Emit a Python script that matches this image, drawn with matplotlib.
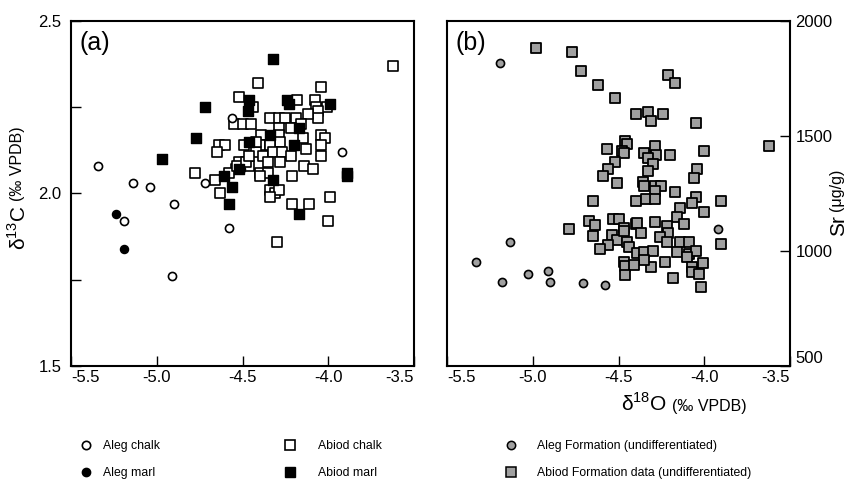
import matplotlib
matplotlib.use("Agg")
import matplotlib.pyplot as plt
from matplotlib.lines import Line2D
from matplotlib import font_manager

plt.rcParams['font.family'] = ['Liberation Sans', 'DejaVu Sans']
plt.rcParams['mathtext.fontset'] = 'custom'
plt.rcParams['mathtext.rm'] = 'Liberation Sans'

# legend text in the original is a narrow face; use it if it is there
installed = {f.name for f in font_manager.fontManager.ttflist}
if 'Liberation Sans Narrow' in installed:
    leg_font = {'family': 'Liberation Sans Narrow', 'size': 10.5}
else:
    leg_font = {'family': 'Liberation Sans', 'size': 8.8}

# ---- panel (a): d18O vs d13C ----
aleg_chalk_o = [-5.34, -5.14, -5.04, -4.72, -4.56, -3.92, -4.90, -5.19, -4.58, -4.91]
aleg_chalk_c = [2.08, 2.03, 2.02, 2.03, 2.22, 2.12, 1.97, 1.92, 1.90, 1.76]

aleg_marl_o = [-5.24, -5.19, -4.51]
aleg_marl_c = [1.94, 1.84, 2.07]

abiod_chalk_o = [-3.62, -4.41, -4.04, -4.52, -4.18, -4.08, -4.44, -4.07, -4.01, -4.06,
                 -4.06, -4.12, -4.55, -4.50, -4.45, -4.34, -4.29, -4.25, -4.19, -4.16,
                 -4.29, -4.22, -4.39, -4.29, -4.28, -4.40, -4.34, -4.49, -4.64, -4.60,
                 -4.65, -4.15, -4.13, -4.04, -4.02, -4.04, -4.04, -4.14, -4.09, -4.21,
                 -4.42, -4.38, -4.32, -4.27, -4.22, -4.28, -4.35, -4.46, -4.52, -4.54,
                 -4.40, -4.35, -4.78, -4.66, -4.58, -4.63, -4.34, -4.31, -4.29, -4.34,
                 -4.21, -4.11, -3.99, -4.00, -4.30, -4.40, -4.53, -4.48, -4.42, -4.46]
abiod_chalk_c = [2.37, 2.32, 2.31, 2.28, 2.27, 2.27, 2.25, 2.25, 2.25, 2.24,
                 2.22, 2.23, 2.20, 2.20, 2.20, 2.22, 2.22, 2.22, 2.22, 2.20,
                 2.19, 2.19, 2.17, 2.17, 2.15, 2.14, 2.14, 2.14, 2.14, 2.14,
                 2.12, 2.16, 2.13, 2.17, 2.16, 2.14, 2.11, 2.08, 2.07, 2.05,
                 2.12, 2.11, 2.12, 2.12, 2.11, 2.09, 2.09, 2.08, 2.09, 2.07,
                 2.06, 2.06, 2.06, 2.04, 2.06, 2.00, 2.01, 2.00, 2.01, 1.99,
                 1.97, 1.97, 1.99, 1.92, 1.86, 2.05, 2.08, 2.09, 2.15, 2.11]

abiod_marl_o = [-4.32, -4.72, -4.46, -4.47, -4.24, -4.23, -3.99, -4.77, -4.97, -4.46,
                -4.34, -4.20, -4.61, -4.56, -4.32, -3.89, -3.89, -4.58, -4.17, -4.17,
                -4.52]
abiod_marl_c = [2.39, 2.25, 2.27, 2.24, 2.27, 2.26, 2.26, 2.16, 2.10, 2.15,
                2.17, 2.14, 2.05, 2.02, 2.04, 2.06, 2.05, 1.97, 1.94, 2.19,
                2.07]

# ---- panel (b): d18O vs Sr ----
aleg_fm_o = [-5.19, -5.13, -5.33, -5.18, -5.03, -4.91, -4.90, -4.71, -4.58, -3.92]
aleg_fm_sr = [1816, 1039, 954, 864, 900, 914, 867, 861, 852, 1097]

abiod_fm_o = [-4.98, -4.77, -4.72, -4.62, -4.52, -4.21, -4.17, -4.40, -4.33, -4.31,
              -4.24, -4.05, -3.62, -4.57, -4.46, -4.45, -4.48, -4.47, -4.29, -4.35,
              -4.28, -4.33, -4.20, -4.00, -4.30, -4.52, -4.56, -4.59, -4.33, -4.04,
              -4.06, -4.51, -4.36, -4.35, -4.29, -4.25, -4.29, -4.17, -4.65, -4.40,
              -4.34, -4.29, -4.05, -4.07, -3.90, -4.14, -4.00, -4.16, -4.67, -4.64,
              -4.53, -4.50, -4.40, -4.39, -4.29, -4.22, -4.12, -4.79, -4.47, -4.65,
              -4.37, -4.21, -4.54, -4.51, -4.47, -4.56, -4.61, -4.45, -4.44, -4.39,
              -4.26, -4.22, -4.35, -4.30, -4.14, -4.09, -4.16, -4.09, -4.05, -4.10,
              -3.90, -4.23, -4.31, -4.35, -4.47, -4.46, -4.41, -4.46, -4.07, -4.01,
              -4.07, -4.03, -4.18, -4.02]
abiod_fm_sr = [1884, 1864, 1784, 1723, 1664, 1764, 1732, 1594, 1603, 1567,
               1594, 1555, 1457, 1445, 1478, 1465, 1435, 1425, 1457, 1425,
               1416, 1403, 1416, 1436, 1377, 1387, 1357, 1327, 1346, 1357,
               1316, 1297, 1299, 1284, 1284, 1284, 1262, 1257, 1217, 1217,
               1226, 1226, 1236, 1207, 1217, 1186, 1168, 1149, 1132, 1113,
               1138, 1138, 1117, 1120, 1127, 1109, 1117, 1096, 1099, 1066,
               1077, 1077, 1070, 1048, 1088, 1026, 1007, 1040, 1019, 990,
               1060, 1040, 997, 1000, 1038, 1038, 994, 986, 1000, 975,
               1029, 953, 932, 961, 953, 936, 939, 896, 932, 949,
               910, 899, 884, 843]

xticks = [-5.5, -5.0, -4.5, -4.0, -3.5]
xticklabels = ["-5.5", "-5.0", "-4.5", "-4.0", "-3.5"]

gray = "#a0a0a0"

fig = plt.figure(figsize=(8.6, 4.79), dpi=100)
ax1 = fig.add_axes([0.0826, 0.2359, 0.3988, 0.7203])
ax2 = fig.add_axes([0.5198, 0.2359, 0.3988, 0.7203])

# panel a
ax1.scatter(abiod_chalk_o, abiod_chalk_c, marker="s", s=55, facecolor="white", edgecolor="black", linewidth=1.2, zorder=3)
ax1.scatter(abiod_marl_o, abiod_marl_c, marker="s", s=55, facecolor="black", edgecolor="black", linewidth=1.0, zorder=4)
ax1.scatter(aleg_chalk_o, aleg_chalk_c, marker="o", s=34, facecolor="white", edgecolor="black", linewidth=1.2, zorder=5)
ax1.scatter(aleg_marl_o, aleg_marl_c, marker="o", s=34, facecolor="black", edgecolor="black", linewidth=1.0, zorder=5)
ax1.set_xlim(-5.5, -3.5)
ax1.set_ylim(1.5, 2.5)
ax1.set_yticks([1.5, 2.0, 2.5], ["1.5", "2.0", "2.5"])
ax1.set_yticks([1.75, 2.25], minor=True)
ax1.tick_params(axis="y", which="both", direction="in", length=7, width=1, labelsize=12, pad=7)
ax1.text(0.025, 0.97, "(a)", transform=ax1.transAxes, fontsize=18, va="top", ha="left")

# panel b
ax2.scatter(abiod_fm_o, abiod_fm_sr, marker="s", s=55, facecolor=gray, edgecolor="black", linewidth=1.3, zorder=3)
ax2.scatter(aleg_fm_o, aleg_fm_sr, marker="o", s=34, facecolor=gray, edgecolor="black", linewidth=1.2, zorder=4)
ax2.set_xlim(-5.5, -3.5)
ax2.set_ylim(500, 2000)
ax2.yaxis.tick_right()
ax2.set_yticks([500, 1000, 1500, 2000], ["500", "1000", "1500", "2000"])
ax2.tick_params(axis="y", direction="in", length=7, width=1, labelsize=12, pad=4)
ax2.get_yticklabels()[0].set_va("bottom")
ax2.text(0.025, 0.97, "(b)", transform=ax2.transAxes, fontsize=18, va="top", ha="left")

for ax in (ax1, ax2):
    ax.set_xticks(xticks, xticklabels)
    ax.tick_params(axis="x", direction="in", length=7, width=1, labelsize=12, pad=3)
    labs = ax.get_xticklabels()
    labs[0].set_ha("left")
    labs[-1].set_ha("right")
    for sp in ax.spines.values():
        sp.set_linewidth(1.5)

# axis titles, built from pieces with a smaller unit part
fig.canvas.draw()
r = fig.canvas.get_renderer()

def stacked_label(x, y, big, small, rotation, bigsize, smallsize):
    # big part first, small part continues along the text direction
    if rotation == 90:
        t = fig.text(x, y, big, rotation=90, fontsize=bigsize, ha="center", va="bottom")
        bb = t.get_window_extent(r).transformed(fig.transFigure.inverted())
        fig.text(x - 0.002, bb.y1 + 0.008, small, rotation=90, fontsize=smallsize, ha="center", va="bottom")
    else:
        t = fig.text(x, y, big, fontsize=bigsize, ha="left", va="baseline")
        bb = t.get_window_extent(r).transformed(fig.transFigure.inverted())
        fig.text(bb.x1 + 0.006, y, small, fontsize=smallsize, ha="left", va="baseline")

stacked_label(0.022, 1 - 250 / 479, r"δ$^{\mathregular{13}}$C", "(‰ VPDB)", 90, 15, 11.5)
stacked_label(0.975, 1 - 236 / 479, "Sr", "(μg/g)", 90, 15, 11.5)
stacked_label(621 / 860, 1 - 411 / 479, r"δ$^{\mathregular{18}}$O", "(‰ VPDB)", 0, 15, 11.5)

# legend, three columns
def col_legend(handles, labels, x, textpad):
    fig.legend(handles, labels, loc="upper left", bbox_to_anchor=(x, 1 - 440 / 479),
               frameon=False, prop=leg_font, labelspacing=1.25, handletextpad=textpad,
               handlelength=1.1, borderpad=0, borderaxespad=0)

col_legend([Line2D([], [], ls="none", marker="o", ms=6, mfc="white", mec="black", mew=1.2),
            Line2D([], [], ls="none", marker="o", ms=6, mfc="black", mec="black")],
           ["Aleg chalk", "Aleg marl"], 79 / 860, 0.85)
col_legend([Line2D([], [], ls="none", marker="s", ms=7, mfc="white", mec="black", mew=1.2),
            Line2D([], [], ls="none", marker="s", ms=7, mfc="black", mec="black")],
           ["Abiod chalk", "Abiod marl"], 283 / 860, 1.75)
col_legend([Line2D([], [], ls="none", marker="o", ms=6, mfc=gray, mec="black", mew=1.1),
            Line2D([], [], ls="none", marker="s", ms=7, mfc=gray, mec="black", mew=1.1)],
           ["Aleg Formation (undifferentiated)", "Abiod Formation data (undifferentiated)"], 504 / 860, 1.6)

fig.savefig("out.png", dpi=100)
